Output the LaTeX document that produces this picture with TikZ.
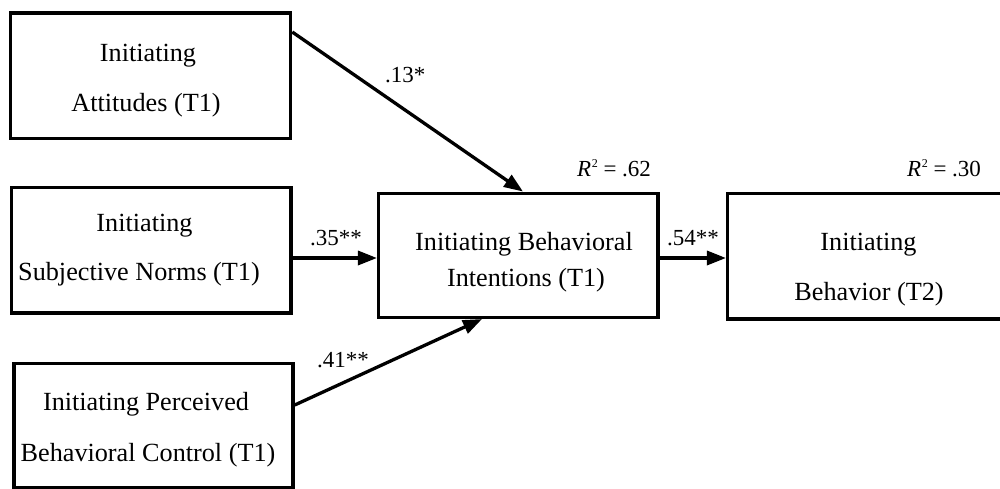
\documentclass[tikz,border=0pt]{standalone}
\usepackage{fontspec}
\setmainfont{Liberation Serif}
\usetikzlibrary{arrows.meta}

\tikzset{
  box/.style={draw=black, line width=3.5pt, rectangle, inner sep=0pt},
  boxtext/.style={anchor=base, inner sep=0pt, font=\fontsize{26.2}{30}\selectfont},
  coef/.style={anchor=base west, inner sep=0pt, font=\fontsize{23}{26}\selectfont},
  path/.style={draw=black, line width=3.3pt,
    -{Triangle[length=19pt,width=14pt]}},
}
\newcommand{\rsq}{\textit{R}\kern0.5pt\raisebox{0.42em}{\fontsize{12}{12}\selectfont 2}}

\begin{document}
\begin{tikzpicture}[x=1pt,y=-1pt]
  \useasboundingbox (0,0) rectangle (1000,489);
  \clip (0,0) rectangle (1000,489);
  \fill[white] (0,0) rectangle (1000,489);

  % predictor boxes
  \node[box, minimum width=280pt, minimum height=125.5pt] (att) at (150.5,75.75) {};
  \node[boxtext] (att1) at (148,62) {Initiating};
  \node[boxtext] (att2) at (146,112) {Attitudes (T1)};

  \node[box, minimum width=279.3pt, minimum height=125.3pt] (sn) at (151.35,250.35) {};
  \node[boxtext] (sn1) at (144.5,231.7) {Initiating};
  \node[boxtext] (sn2) at (139,280) {Subjective Norms (T1)};

  \node[box, minimum width=279pt, minimum height=124.7pt] (pbc) at (153.5,425.65) {};
  \node[boxtext] (pbc1) at (146,410.7) {Initiating Perceived};
  \node[boxtext] (pbc2) at (148,461.7) {Behavioral Control (T1)};

  % intention and behaviour boxes
  \node[box, minimum width=279.3pt, minimum height=124pt] (int) at (518.35,255.3) {};
  \node[boxtext] (int1) at (524,250) {Initiating Behavioral};
  \node[boxtext] (int2) at (526,286.7) {Intentions (T1)};

  \node[box, minimum width=282pt, minimum height=125.7pt] (beh) at (868.7,256.15) {};
  \node[boxtext] (beh1) at (868.5,250) {Initiating};
  \node[boxtext] (beh2) at (869,300) {Behavior (T2)};

  % explained variance
  \node[coef] (r2int) at (577,177) {\rsq{} = .62};
  \node[coef] (r2beh) at (907,177) {\rsq{} = .30};

  % paths
  \draw[path] (att.east |- 0,32) -- (int.north -| 523,0);
  \draw[path] (sn.east |- 0,258) -- (int.west |- 0,258);
  \draw[path] (pbc.east |- 0,405) -- (int.south -| 482,0);
  \draw[path] (int.east |- 0,258) -- (beh.west |- 0,258);

  % path coefficients
  \node[coef] (c13) at (385,83) {.13*};
  \node[coef] (c35) at (310,245) {.35**};
  \node[coef] (c41) at (317,367) {.41**};
  \node[coef] (c54) at (667,245) {.54**};
\end{tikzpicture}
\end{document}
